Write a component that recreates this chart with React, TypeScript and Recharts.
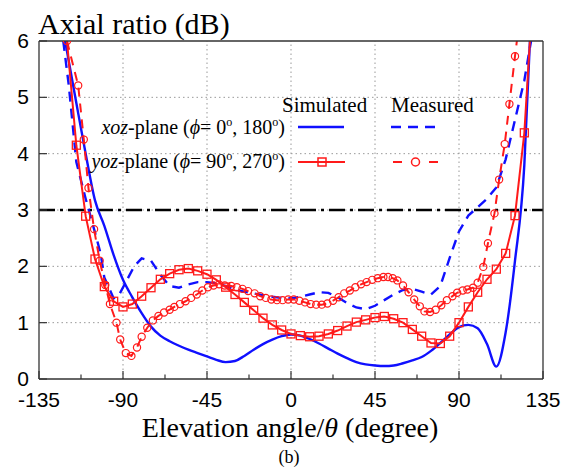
import React from "react";
import {
  LineChart,
  Line,
  XAxis,
  YAxis,
  ReferenceLine,
} from "recharts";

// x axis ticks (degree) and y axis ticks (dB)
const xTicks = [-135, -112.5, -90, -67.5, -45, -22.5, 0, 22.5, 45, 67.5, 90, 112.5, 135];
const yTicks = [0, 1, 2, 3, 4, 5, 6];
const gridX = [-90, -45, 0, 45, 90];
const gridY = [1, 2, 3, 4, 5];

// xoz-plane, simulated (blue solid)
const simXozTheta = [-121, -115, -110, -105, -100, -95, -90, -85, -80, -75, -70, -65, -60, -55, -50, -45, -40, -35, -30, -25, -20, -15, -10, -5, 0, 5, 10, 15, 20, 25, 30, 35, 40, 45, 50, 55, 60, 65, 70, 75, 80, 85, 90, 95, 100, 105, 110, 115, 120, 125, 128];
const simXozAR = [6.0, 4.9, 4.0, 3.17, 2.72, 2.2, 1.76, 1.45, 1.17, 0.93, 0.77, 0.67, 0.59, 0.52, 0.46, 0.4, 0.34, 0.3, 0.32, 0.41, 0.52, 0.62, 0.7, 0.76, 0.79, 0.77, 0.71, 0.63, 0.54, 0.45, 0.37, 0.3, 0.26, 0.24, 0.23, 0.24, 0.28, 0.33, 0.39, 0.5, 0.64, 0.79, 0.92, 0.96, 0.9, 0.62, 0.22, 0.83, 2.1, 3.8, 6.0];

// xoz-plane, measured (blue dashed)
const measXozTheta = [-122, -119, -115, -110, -105, -102, -100, -95, -92, -88, -84, -80, -75, -70, -65, -60, -55, -50, -45, -40, -35, -30, -25, -20, -15, -10, -5, 0, 5, 10, 15, 20, 25, 30, 35, 40, 45, 50, 55, 60, 65, 70, 75, 80, 85, 90, 95, 100, 105, 110, 115, 120, 125, 128.6];
const measXozAR = [6.0, 5.2, 3.85, 3.2, 2.6, 2.23, 1.8, 1.43, 1.5, 1.75, 2.0, 2.14, 2.1, 1.85, 1.65, 1.62, 1.68, 1.72, 1.72, 1.7, 1.65, 1.58, 1.55, 1.52, 1.49, 1.46, 1.44, 1.43, 1.46, 1.5, 1.54, 1.53, 1.45, 1.35, 1.27, 1.24, 1.3, 1.4, 1.5, 1.58, 1.6, 1.55, 1.5, 1.65, 2.15, 2.62, 2.9, 3.05, 3.2, 3.4, 3.9, 4.6, 5.3, 6.0];

// yoz-plane, simulated (red solid, squares)
const simYozTheta = [-120, -115, -110, -105, -100, -95, -90, -85, -80, -75, -70, -65, -60, -55, -50, -45, -40, -35, -30, -25, -20, -15, -10, -5, 0, 5, 10, 15, 20, 25, 30, 35, 40, 45, 50, 55, 60, 65, 70, 75, 80, 85, 90, 95, 100, 105, 110, 115, 120, 125, 128];
const simYozAR = [6.0, 4.15, 2.89, 2.13, 1.64, 1.38, 1.28, 1.33, 1.47, 1.62, 1.77, 1.87, 1.94, 1.96, 1.92, 1.86, 1.76, 1.63, 1.5, 1.36, 1.22, 1.08, 0.96, 0.87, 0.8, 0.77, 0.75, 0.76, 0.8, 0.86, 0.94, 1.01, 1.05, 1.09, 1.11, 1.07, 1.0, 0.88, 0.76, 0.64, 0.63, 0.76, 1.0, 1.28, 1.54, 1.77, 1.95, 2.23, 2.9, 4.37, 6.0];

// yoz-plane, measured (red dashed, circles)
const measYozTheta = [-120, -114, -111, -108.5, -105.5, -102.5, -99.5, -97, -93.5, -91.5, -88.5, -85.5, -82.5, -80, -77, -74, -71, -68, -65, -62.5, -59.5, -56.5, -53.5, -50.5, -47.5, -44.5, -41.5, -38.5, -35.5, -32, -29, -26, -23, -19.5, -16.5, -13.5, -10.5, -7.5, -4.5, -1.5, 1.5, 4.5, 7.5, 10.5, 13.5, 16.5, 19.5, 22.5, 25.5, 28.5, 31.5, 34.5, 37.5, 40.5, 43.5, 46.5, 49.5, 52, 54.5, 57, 60, 63, 66, 69, 71.5, 74.5, 77.5, 80.5, 83.5, 86.5, 89, 92, 94.5, 97.5, 100, 103, 105.5, 109, 111.5, 114.5, 117, 120, 121];
const measYozAR = [6.0, 5.21, 4.25, 3.39, 2.66, 2.1, 1.67, 1.33, 1.0, 0.7, 0.46, 0.41, 0.56, 0.75, 0.91, 1.04, 1.12, 1.18, 1.23, 1.28, 1.33, 1.38, 1.44, 1.5, 1.57, 1.63, 1.66, 1.68, 1.66, 1.65, 1.63, 1.6, 1.56, 1.52, 1.47, 1.44, 1.41, 1.4, 1.4, 1.41, 1.41, 1.39, 1.36, 1.33, 1.32, 1.32, 1.34, 1.39, 1.45, 1.52, 1.57, 1.63, 1.68, 1.72, 1.76, 1.79, 1.81, 1.81, 1.79, 1.75, 1.66, 1.54, 1.41, 1.29, 1.2, 1.19, 1.23, 1.31, 1.4, 1.47, 1.53, 1.57, 1.59, 1.62, 1.71, 1.99, 2.41, 2.94, 3.54, 4.17, 4.88, 5.73, 6.0];

const toRows = (t: number[], v: number[]) => t.map((x, i) => ({ t: x, v: v[i] }));

const BLUE = "#1010ff";
const RED = "#ff1a1a";
const sans = "'Liberation Sans', Arial, sans-serif";
const serif = "'Liberation Serif', 'Times New Roman', serif";

const BottomTick = ({ x, y, payload }: any) => {
  const major = payload.value % 45 === 0;
  return (
    <g>
      <line x1={x} x2={x} y1={y} y2={y - (major ? 8 : 4.5)} stroke="#333" strokeWidth={1.2} />
      {major && (
        <text x={x} y={y + 28} textAnchor="middle" fontSize={21} fontFamily={sans} fill="#000">
          {payload.value}
        </text>
      )}
    </g>
  );
};

const TopTick = ({ x, y, payload }: any) => {
  const major = payload.value % 45 === 0;
  return <line x1={x} x2={x} y1={y} y2={y + (major ? 8 : 4.5)} stroke="#333" strokeWidth={1.2} />;
};

const LeftTick = ({ x, y, payload }: any) => (
  <g>
    <line x1={x} x2={x + 8} y1={y} y2={y} stroke="#333" strokeWidth={1.2} />
    <text x={x - 10} y={y + 7} textAnchor="end" fontSize={21} fontFamily={sans} fill="#000">
      {payload.value}
    </text>
  </g>
);

const RightTick = ({ x, y }: any) => (
  <line x1={x} x2={x - 8} y1={y} y2={y} stroke="#333" strokeWidth={1.2} />
);

const SquareDot = ({ cx, cy, payload }: any) => {
  if (payload.v >= 6) return <g />;
  return <rect x={cx - 4} y={cy - 4} width={8} height={8} fill="none" stroke={RED} strokeWidth={1.3} />;
};

const CircleDot = ({ cx, cy, index }: any) => {
  if (index === measYozTheta.length - 1) return <g />;
  return <circle cx={cx} cy={cy} r={3.6} fill="none" stroke={RED} strokeWidth={1.2} strokeDasharray="none" />;
};

export default function App() {
  return (
    <div style={{ position: "absolute", left: 0, top: 0, width: 574, height: 471, background: "#fff" }}>
      <LineChart width={574} height={471} margin={{ top: 40, right: 30, left: 0, bottom: 0 }}>
        <XAxis
          type="number"
          dataKey="t"
          domain={[-135, 135]}
          ticks={xTicks}
          interval={0}
          height={92}
          tickSize={0}
          tickMargin={0}
          tickLine={false}
          tick={<BottomTick />}
          axisLine={{ stroke: "#333", strokeWidth: 1.3 }}
          allowDataOverflow
        />
        <XAxis
          xAxisId="top"
          orientation="top"
          type="number"
          domain={[-135, 135]}
          ticks={xTicks}
          interval={0}
          height={1}
          tickSize={0}
          tickMargin={0}
          tickLine={false}
          tick={<TopTick />}
          axisLine={{ stroke: "#333", strokeWidth: 1.3 }}
        />
        <YAxis
          type="number"
          domain={[0, 6]}
          ticks={yTicks}
          interval={0}
          width={39}
          tickSize={0}
          tickMargin={0}
          tickLine={false}
          tick={<LeftTick />}
          axisLine={{ stroke: "#333", strokeWidth: 1.3 }}
          allowDataOverflow
        />
        <YAxis
          yAxisId="right"
          orientation="right"
          type="number"
          domain={[0, 6]}
          ticks={yTicks}
          interval={0}
          width={1}
          tickSize={0}
          tickMargin={0}
          tickLine={false}
          tick={<RightTick />}
          axisLine={{ stroke: "#333", strokeWidth: 1.3 }}
        />
        {gridX.map((g) => (
          <ReferenceLine key={"gx" + g} x={g} stroke="#999" strokeDasharray="1.5 3" strokeWidth={1} />
        ))}
        {gridY.map((g) => (
          <ReferenceLine key={"gy" + g} y={g} stroke="#999" strokeDasharray="1.5 3" strokeWidth={1} />
        ))}
        <ReferenceLine y={3} stroke="#000" strokeWidth={2.5} strokeDasharray="16 5 3 5" />
        <Line
          data={toRows(simXozTheta, simXozAR)}
          dataKey="v"
          type="monotone"
          stroke={BLUE}
          strokeWidth={2.4}
          dot={false}
          isAnimationActive={false}
        />
        <Line
          data={toRows(measXozTheta, measXozAR)}
          dataKey="v"
          type="linear"
          stroke={BLUE}
          strokeWidth={2.4}
          strokeDasharray="10 7"
          dot={false}
          isAnimationActive={false}
        />
        <Line
          data={toRows(measYozTheta, measYozAR)}
          dataKey="v"
          type="linear"
          stroke={RED}
          strokeWidth={2}
          strokeDasharray="9 7"
          dot={<CircleDot />}
          isAnimationActive={false}
        />
        <Line
          data={toRows(simYozTheta, simYozAR)}
          dataKey="v"
          type="linear"
          stroke={RED}
          strokeWidth={2}
          dot={<SquareDot />}
          isAnimationActive={false}
        />
      </LineChart>
      <svg
        width={574}
        height={471}
        style={{ position: "absolute", left: 0, top: 0, pointerEvents: "none" }}
      >
        <text x={38} y={34} fontSize={30} fontFamily={serif} fill="#000">
          Axial ratio (dB)
        </text>
        <text x={290} y={437} fontSize={28} fontFamily={serif} fill="#000" textAnchor="middle">
          Elevation angle/<tspan fontStyle="italic">θ</tspan> (degree)
        </text>
        <text x={289} y={463} fontSize={18} fontFamily={serif} fill="#000" textAnchor="middle">
          (b)
        </text>

        <text x={282} y={112} fontSize={21} fontFamily={serif} fill="#000">
          Simulated
        </text>
        <text x={391} y={112} fontSize={21} fontFamily={serif} fill="#000">
          Measured
        </text>
        <text x={285} y={134} fontSize={20} fontFamily={serif} fill="#000" textAnchor="end">
          <tspan fontStyle="italic">xoz</tspan>-plane (<tspan fontStyle="italic">ϕ</tspan>= 0
          <tspan dy={-8} fontSize={12}>o</tspan>
          <tspan dy={8}>, 180</tspan>
          <tspan dy={-8} fontSize={12}>o</tspan>
          <tspan dy={8}>)</tspan>
        </text>
        <text x={285} y={168} fontSize={20} fontFamily={serif} fill="#000" textAnchor="end">
          <tspan fontStyle="italic">yoz</tspan>-plane (<tspan fontStyle="italic">ϕ</tspan>= 90
          <tspan dy={-8} fontSize={12}>o</tspan>
          <tspan dy={8}>, 270</tspan>
          <tspan dy={-8} fontSize={12}>o</tspan>
          <tspan dy={8}>)</tspan>
        </text>

        <line x1={298} x2={344} y1={127} y2={127} stroke={BLUE} strokeWidth={2.4} />
        <line x1={391} x2={437} y1={127} y2={127} stroke={BLUE} strokeWidth={2.4} strokeDasharray="10 7" />
        <line x1={298} x2={345} y1={162} y2={162} stroke={RED} strokeWidth={2} />
        <rect x={318} y={158} width={8} height={8} fill="none" stroke={RED} strokeWidth={1.5} />
        <line x1={393} x2={438} y1={162} y2={162} stroke={RED} strokeWidth={2} strokeDasharray="9 27 9" />
        <circle cx={415.5} cy={162} r={4} fill="none" stroke={RED} strokeWidth={1.5} />
      </svg>
    </div>
  );
}
